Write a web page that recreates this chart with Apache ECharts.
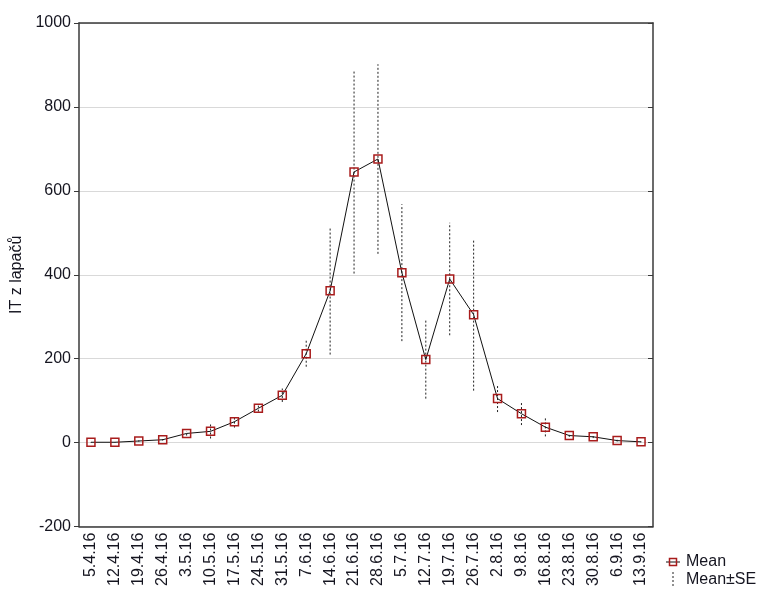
<!DOCTYPE html>
<html>
<head>
<meta charset="utf-8">
<script src="https://cdn.jsdelivr.net/npm/echarts@6/dist/echarts.min.js"></script>
<style>
html,body{margin:0;padding:0;background:#fff;}
#chart{width:760px;height:589px;}
</style>
</head>
<body>
<div id="chart"></div>
<script>
// Sampling dates
const dates = ['5.4.16','12.4.16','19.4.16','26.4.16','3.5.16','10.5.16','17.5.16','24.5.16','31.5.16',
  '7.6.16','14.6.16','21.6.16','28.6.16','5.7.16','12.7.16','19.7.16','26.7.16','2.8.16','9.8.16',
  '16.8.16','23.8.16','30.8.16','6.9.16','13.9.16'];
// Mean catch per date
const meanValues = [1, 1, 4, 7, 22, 27, 50, 82, 113, 212, 362, 645, 676, 405, 198, 390, 305, 105, 69, 37, 17, 14, 5, 2];
// Standard error per date
const seValues = [0.5, 0.5, 2, 2, 5, 17, 14, 8, 16, 31, 152, 242, 226, 163, 93, 134, 181, 32, 27, 22, 3, 3, 2, 1];
// Y axis range
const yMin = -200, yMax = 1000, yStep = 200;

const chart = echarts.init(document.getElementById('chart'), null, {renderer: 'canvas'});
const font = 'Liberation Sans, Arial, sans-serif';
const axisColor = '#3a3a3a';
const textColor = '#151520';

const errData = dates.map((d, i) => [i, meanValues[i] - seValues[i], meanValues[i] + seValues[i]]);

chart.setOption({
  animation: false,
  backgroundColor: '#fff',
  grid: {left: 79, right: 107, top: 23, bottom: 62, containLabel: false},
  xAxis: [{
    type: 'category', data: dates, position: 'bottom', boundaryGap: true,
    axisLine: {onZero: false, lineStyle: {color: axisColor, width: 1.5}},
    axisTick: {inside: true, alignWithLabel: true, length: 5, lineStyle: {color: axisColor}},
    axisLabel: {rotate: 90, interval: 0, fontFamily: font, fontSize: 16, color: textColor, margin: 6}
  }, {
    type: 'category', data: dates, position: 'top', boundaryGap: true,
    axisLine: {onZero: false, lineStyle: {color: axisColor, width: 1.5}},
    axisTick: {inside: true, alignWithLabel: true, length: 5, lineStyle: {color: axisColor}},
    axisLabel: {show: false}
  }],
  yAxis: [{
    type: 'value', min: yMin, max: yMax, interval: yStep, position: 'left',
    name: 'IT z lapačů', nameLocation: 'middle', nameGap: 46,
    nameTextStyle: {fontFamily: font, fontSize: 16, color: textColor},
    axisLine: {show: true, lineStyle: {color: axisColor, width: 1.5}},
    axisTick: {show: true, inside: false, length: 5, lineStyle: {color: axisColor}},
    axisLabel: {fontFamily: font, fontSize: 16, color: textColor, margin: 8, formatter: v => String(v)},
    splitLine: {show: true, lineStyle: {color: '#d9d9d9', width: 1}}
  }, {
    type: 'value', min: yMin, max: yMax, interval: yStep, position: 'right',
    axisLine: {show: true, lineStyle: {color: axisColor, width: 1.5}},
    axisTick: {show: true, inside: true, length: 5, lineStyle: {color: axisColor}},
    axisLabel: {show: false},
    splitLine: {show: false}
  }],
  series: [{
    name: 'Mean±SE',
    type: 'custom',
    xAxisIndex: 0, yAxisIndex: 0,
    data: errData,
    encode: {x: 0, y: [1, 2]},
    z: 2,
    renderItem: function (params, api) {
      const x = api.value(0);
      const lo = api.coord([x, api.value(1)]);
      const hi = api.coord([x, api.value(2)]);
      return {
        type: 'line',
        shape: {x1: lo[0], y1: lo[1], x2: hi[0], y2: hi[1]},
        style: {stroke: '#222', lineWidth: 1, lineDash: [2, 2]}
      };
    }
  }, {
    name: 'Mean',
    type: 'line',
    xAxisIndex: 0, yAxisIndex: 0,
    data: meanValues,
    z: 3,
    symbol: 'rect',
    symbolSize: 8,
    showAllSymbol: true,
    lineStyle: {color: '#111', width: 1},
    itemStyle: {color: 'rgba(255,255,255,0)', borderColor: '#a81c1c', borderWidth: 1.5}
  }],
  graphic: [
    // Legend: Mean
    {type: 'line', shape: {x1: 666, y1: 562, x2: 680, y2: 562}, style: {stroke: '#111', lineWidth: 1}},
    {type: 'rect', shape: {x: 669.5, y: 558.5, width: 7, height: 7}, style: {fill: 'rgba(255,255,255,0)', stroke: '#a81c1c', lineWidth: 1.5}},
    {type: 'text', x: 686, y: 562, style: {text: 'Mean', fontFamily: font, fontSize: 16, fill: textColor, textVerticalAlign: 'middle'}},
    // Legend: Mean±SE
    {type: 'line', shape: {x1: 673, y1: 572, x2: 673, y2: 588}, style: {stroke: '#222', lineWidth: 1, lineDash: [2, 2]}},
    {type: 'text', x: 686, y: 580, style: {text: 'Mean±SE', fontFamily: font, fontSize: 16, fill: textColor, textVerticalAlign: 'middle'}}
  ]
});
</script>
</body>
</html>
